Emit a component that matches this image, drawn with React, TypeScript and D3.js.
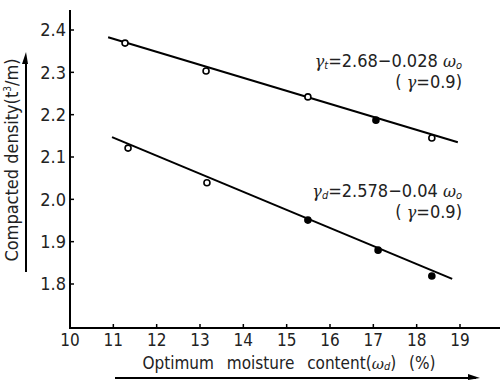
import * as d3 from "d3";

const W = 501;
const H = 383;

// upper series: compacted density (gamma_t)
const moistureT = [11.27, 13.14, 15.49, 17.06, 18.35];
const densityT = [2.369, 2.303, 2.242, 2.187, 2.145];
const filledT = [false, false, false, true, false];

// lower series: dry density (gamma_d)
const moistureD = [11.34, 13.16, 15.49, 17.11, 18.35];
const densityD = [2.121, 2.039, 1.951, 1.88, 1.819];
const filledD = [false, false, true, true, true];

// regression lines as drawn (end points)
const fitTX = [10.88, 18.95];
const fitTY = [2.383, 2.135];
const fitDX = [10.97, 18.82];
const fitDY = [2.147, 1.812];

const xTicks = [10, 11, 12, 13, 14, 15, 16, 17, 18, 19];
const yTicks = [1.8, 1.9, 2.0, 2.1, 2.2, 2.3, 2.4];

const FONT = '"Liberation Sans Narrow", "DejaVu Sans Condensed", "Liberation Sans", Arial, sans-serif';
const GREEK = "'DejaVu Serif', serif";

export default function App() {
  const x = d3.scaleLinear().domain([10, 19]).range([70, 460]);
  const y = d3.scaleLinear().domain([1.8, 2.4]).range([284, 30]);

  const x0 = 70;
  const y0 = 328;
  const line = d3
    .line<[number, number]>()
    .x((d) => x(d[0]))
    .y((d) => y(d[1]));

  const fitT = line(fitTX.map((v, i) => [v, fitTY[i]] as [number, number])) ?? "";
  const fitD = line(fitDX.map((v, i) => [v, fitDY[i]] as [number, number])) ?? "";

  const points = [
    ...moistureT.map((m, i) => ({ m, d: densityT[i], f: filledT[i], k: "t" + i })),
    ...moistureD.map((m, i) => ({ m, d: densityD[i], f: filledD[i], k: "d" + i })),
  ];

  return (
    <div style={{ position: "fixed", left: 0, top: 0 }}>
      <svg width={W} height={H} style={{ background: "#fff", display: "block" }} fontFamily={FONT}>
        {/* axes */}
        <line x1={x0} y1={10} x2={x0} y2={y0} stroke="#000" strokeWidth={2} />
        <line x1={x0 - 1} y1={y0} x2={500} y2={y0} stroke="#000" strokeWidth={2} />

        {yTicks.map((t) => (
          <g key={"y" + t}>
            <line x1={x0} x2={x0 + 4} y1={y(t)} y2={y(t)} stroke="#000" strokeWidth={1.5} />
            <text x={x0 - 4} y={y(t)} dy="0.36em" textAnchor="end" fontSize={18} fill="#222">
              {t.toFixed(1)}
            </text>
          </g>
        ))}
        {xTicks.map((t) => (
          <g key={"x" + t}>
            <line x1={x(t)} x2={x(t)} y1={y0} y2={y0 - 4} stroke="#000" strokeWidth={1.5} />
            <text x={x(t)} y={y0 + 18} textAnchor="middle" fontSize={17} fill="#222">
              {t}
            </text>
          </g>
        ))}

        {/* fitted lines */}
        <path d={fitT} fill="none" stroke="#000" strokeWidth={2} />
        <path d={fitD} fill="none" stroke="#000" strokeWidth={2} />

        {points.map((p) => (
          <circle
            key={p.k}
            cx={x(p.m)}
            cy={y(p.d)}
            r={3}
            fill={p.f ? "#000" : "#fff"}
            stroke="#000"
            strokeWidth={1.6}
          />
        ))}

        {/* equations */}
        <g fontSize={18} fill="#222">
          <text x={462} y={67} textAnchor="end">
            <tspan fontStyle="italic" fontFamily={GREEK} fontSize={16}>γ</tspan>
            <tspan fontStyle="italic" fontSize={11} dy={2}>t</tspan>
            <tspan dy={-2}>=2.68−0.028 </tspan>
            <tspan fontStyle="italic" fontFamily={GREEK} fontSize={16}>ω</tspan>
            <tspan fontStyle="italic" fontSize={11} dy={2}>o</tspan>
          </text>
          <text x={462} y={88} textAnchor="end">
            {"( "}
            <tspan fontStyle="italic" fontFamily={GREEK} fontSize={16}>γ</tspan>
            <tspan>=0.9)</tspan>
          </text>
          <text x={462} y={197} textAnchor="end">
            <tspan fontStyle="italic" fontFamily={GREEK} fontSize={16}>γ</tspan>
            <tspan fontStyle="italic" fontSize={11} dy={2}>d</tspan>
            <tspan dy={-2}>=2.578−0.04 </tspan>
            <tspan fontStyle="italic" fontFamily={GREEK} fontSize={16}>ω</tspan>
            <tspan fontStyle="italic" fontSize={11} dy={2}>o</tspan>
          </text>
          <text x={462} y={218} textAnchor="end">
            {"( "}
            <tspan fontStyle="italic" fontFamily={GREEK} fontSize={16}>γ</tspan>
            <tspan>=0.9)</tspan>
          </text>
        </g>

        {/* x axis title with arrow */}
        <text x={289} y={369} textAnchor="middle" fontSize={17} fill="#222" wordSpacing={8}>
          {"Optimum moisture content("}
          <tspan fontStyle="italic" fontFamily={GREEK} fontSize={15}>ω</tspan>
          <tspan fontStyle="italic" fontSize={11} dy={1}>d</tspan>
          <tspan dy={-1}>{") (%)"}</tspan>
        </text>
        <line x1={115} y1={378} x2={476} y2={378} stroke="#000" strokeWidth={2} />
        <path d="M468,374 L480,378 L468,380 Z" fill="#000" />

        {/* y axis title with arrow */}
        <text
          transform="translate(18,160) rotate(-90)"
          textAnchor="middle"
          fontSize={18}
          fill="#222"
        >
          {"Compacted density(t"}
          <tspan fontSize={10} dy={-7}>3</tspan>
          <tspan dy={7}>{"/m)"}</tspan>
        </text>
        <line x1={26} y1={272} x2={26} y2={58} stroke="#000" strokeWidth={2} />
        <path d="M22,64 L26,52 L28,64 Z" fill="#000" />
      </svg>
    </div>
  );
}
